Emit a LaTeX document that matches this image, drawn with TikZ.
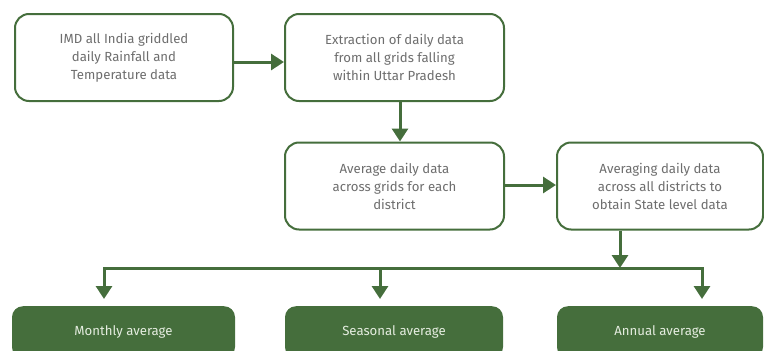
\documentclass[tikz,border=0pt]{standalone}
\usepackage{fontspec}
\setmainfont{Fira Sans}
\usetikzlibrary{arrows.meta}
\definecolor{leaf}{HTML}{456E3C}
\definecolor{ink}{HTML}{6E6E6E}
\definecolor{pale}{HTML}{E4ECDF}
\begin{document}
\begin{tikzpicture}[x=1pt,y=-1pt,
  txt/.style={font=\fontsize{13.2}{18}\selectfont},
  stepbox/.style={txt, draw=leaf, line width=2pt, rounded corners=14pt, fill=white,
    minimum width=#1, minimum height=87pt, align=center, text=ink, inner sep=0pt},
  outbox/.style={txt, fill=leaf, rounded corners=11pt, minimum width=#1,
    minimum height=52pt, text=pale, anchor=north, inner sep=0pt},
  flow/.style={draw=leaf, line width=3pt, -{Triangle[width=16pt,length=13pt]}},
  link/.style={draw=leaf, line width=3pt}]
\useasboundingbox (0,0) rectangle (764,351);
\clip (0,0) rectangle (764,351);

% process steps
\node[stepbox=218pt] (imd) at (124,57.5) {IMD all India griddled\\daily Rainfall and\\Temperature data};
\node[stepbox=219pt] (extract) at (394.5,57.5) {Extraction of daily data\\from all grids falling\\within Uttar Pradesh};
\node[stepbox=219pt] (district) at (394.5,186) {Average daily data\\across grids for each\\district};
\node[stepbox=206pt] (state) at (660,186) {Averaging daily data\\across all districts to\\obtain State level data};

% outputs
\node[outbox=223pt] (monthly) at (123.5,306) {Monthly average};
\node[outbox=218pt] (seasonal) at (394,306) {Seasonal average};
\node[outbox=206pt] (annual) at (660,306) {Annual average};

% junction points of the distribution bus
\coordinate (busS) at (620,268);
\coordinate (busL) at (104,268);
\coordinate (busM) at (380,268);
\coordinate (busR) at (702,268);
\coordinate (tipL) at (104,299);
\coordinate (tipM) at (380,299);
\coordinate (tipR) at (702,299);

% connectors
\draw[flow] (imd.east |- 0,62) -- (extract.west |- 0,62);
\draw[flow] (extract.south -| 400,0) -- (district.north -| 400,0);
\draw[flow] (district.east |- 0,185) -- (state.west |- 0,185);
\draw[flow] (state.south -| busS) -- (busS);
\draw[link, line cap=rect] (busL) -- (busR);
\draw[flow] (busL) -- (tipL);
\draw[flow] (busM) -- (tipM);
\draw[flow] (busR) -- (tipR);
\end{tikzpicture}
\end{document}
